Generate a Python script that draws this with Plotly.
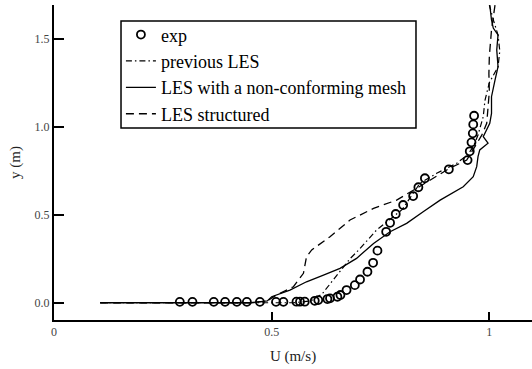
import plotly.graph_objects as go

# Experimental velocity profile
exp_u = [0.289, 0.318, 0.367, 0.393, 0.420, 0.443, 0.473, 0.510, 0.527, 0.557,
         0.565, 0.576, 0.599, 0.607, 0.628, 0.634, 0.651, 0.658, 0.672, 0.691,
         0.703, 0.720, 0.733, 0.743, 0.763, 0.772, 0.785, 0.802, 0.825, 0.837,
         0.852, 0.907, 0.950, 0.955, 0.959, 0.962, 0.963, 0.965]
exp_y = [0.005, 0.005, 0.005, 0.005, 0.005, 0.005, 0.005, 0.005, 0.005, 0.006,
         0.006, 0.006, 0.011, 0.015, 0.021, 0.025, 0.034, 0.044, 0.072, 0.100,
         0.132, 0.176, 0.227, 0.296, 0.403, 0.454, 0.504, 0.555, 0.606, 0.656,
         0.707, 0.758, 0.810, 0.860, 0.911, 0.962, 1.013, 1.062]

# Previous LES
prev_u = [0.106, 0.55, 0.59, 0.616, 0.652, 0.68, 0.70, 0.741, 0.77, 0.80, 0.841,
          0.879, 0.925, 0.950, 0.963, 0.974, 0.986, 0.990, 1.000, 1.020, 1.024,
          1.020, 1.010, 1.000]
prev_y = [0.0, 0.0, 0.01, 0.05, 0.163, 0.25, 0.30, 0.413, 0.47, 0.53, 0.68,
          0.735, 0.792, 0.84, 0.886, 0.953, 1.057, 1.15, 1.25, 1.34, 1.43,
          1.52, 1.60, 1.69]

# LES with a non-conforming mesh
ncm_u = [0.106, 0.45, 0.49, 0.500, 0.542, 0.580, 0.619, 0.657, 0.695, 0.734,
         0.772, 0.810, 0.848, 0.887, 0.940, 0.963, 0.971, 0.974, 0.978, 0.997,
         0.986, 1.001, 1.005, 1.005, 1.013, 1.020, 1.017, 1.020, 1.009, 1.005,
         1.001]
ncm_y = [0.0, 0.0, 0.01, 0.034, 0.072, 0.119, 0.157, 0.195, 0.252, 0.337,
         0.403, 0.451, 0.517, 0.583, 0.659, 0.716, 0.773, 0.830, 0.868, 0.906,
         0.943, 1.019, 1.075, 1.170, 1.265, 1.341, 1.436, 1.521, 1.560, 1.606,
         1.690]

# LES structured
str_u = [0.106, 0.45, 0.49, 0.511, 0.550, 0.573, 0.580, 0.592, 0.634, 0.680,
         0.734, 0.787, 0.833, 0.871, 0.909, 0.948, 0.983, 0.994, 0.997, 1.000,
         0.999, 1.000, 1.005, 1.013]
str_y = [0.0, 0.0, 0.01, 0.044, 0.091, 0.167, 0.261, 0.300, 0.375, 0.470,
         0.536, 0.583, 0.650, 0.707, 0.764, 0.810, 0.953, 1.019, 1.114, 1.200,
         1.300, 1.400, 1.550, 1.690]

x_ticks = [0, 0.5, 1]
y_ticks = [0.0, 0.5, 1.0, 1.5]

SERIF = "Liberation Serif, Times New Roman, serif"

fig = go.Figure()
fig.add_trace(go.Scatter(
    x=exp_u, y=exp_y, mode="markers", name="exp",
    marker=dict(symbol="circle-open", size=8, color="black",
                line=dict(width=1.8, color="black"))))
fig.add_trace(go.Scatter(
    x=prev_u, y=prev_y, mode="lines", name="previous LES",
    line=dict(color="black", width=1.2, dash="6px,3px,1.5px,3px")))
fig.add_trace(go.Scatter(
    x=ncm_u, y=ncm_y, mode="lines", name="LES with a non-conforming mesh",
    line=dict(color="black", width=1.3)))
fig.add_trace(go.Scatter(
    x=str_u, y=str_y, mode="lines", name="LES structured",
    line=dict(color="black", width=1.3, dash="8px,5px")))

# Frame drawn around the legend entries
fig.add_shape(type="rect", xref="paper", yref="paper",
              x0=0.1402, x1=0.7573, y0=0.6095, y1=0.949,
              line=dict(color="black", width=1.5), fillcolor="white",
              layer="above")

fig.update_layout(
    width=532, height=369,
    margin=dict(l=54, r=0, t=5, b=49),
    plot_bgcolor="white", paper_bgcolor="white",
    font=dict(family=SERIF, color="black"),
    showlegend=True,
    legend=dict(
        x=0.140, y=0.964, xanchor="left", yanchor="top",
        borderwidth=0, bgcolor="rgba(0,0,0,0)",
        font=dict(family=SERIF, size=18, color="black"),
        itemwidth=30, tracegroupgap=0,
    ),
    xaxis=dict(
        range=[0, 1.098], showgrid=False, zeroline=False,
        showline=True, linecolor="black", linewidth=2,
        ticks="inside", ticklen=8, tickwidth=2, tickcolor="black",
        tickvals=x_ticks, ticktext=["0", "0.5", "1"],
        tickfont=dict(family=SERIF, size=12, color="#444"),
        title=dict(text="U (m/s)", font=dict(family=SERIF, size=15, color="#222"),
                   standoff=12),
    ),
    yaxis=dict(
        range=[-0.098, 1.691], showgrid=False, zeroline=False,
        showline=True, linecolor="black", linewidth=2,
        ticks="inside", ticklen=10, tickwidth=2, tickcolor="black",
        tickvals=y_ticks, ticktext=["0.0", "0.5", "1.0", "1.5"],
        tickfont=dict(family=SERIF, size=12, color="#444"),
        title=dict(text="y (m)", font=dict(family=SERIF, size=15, color="#222"),
                   standoff=10),
    ),
)

fig.write_html("out.html")
